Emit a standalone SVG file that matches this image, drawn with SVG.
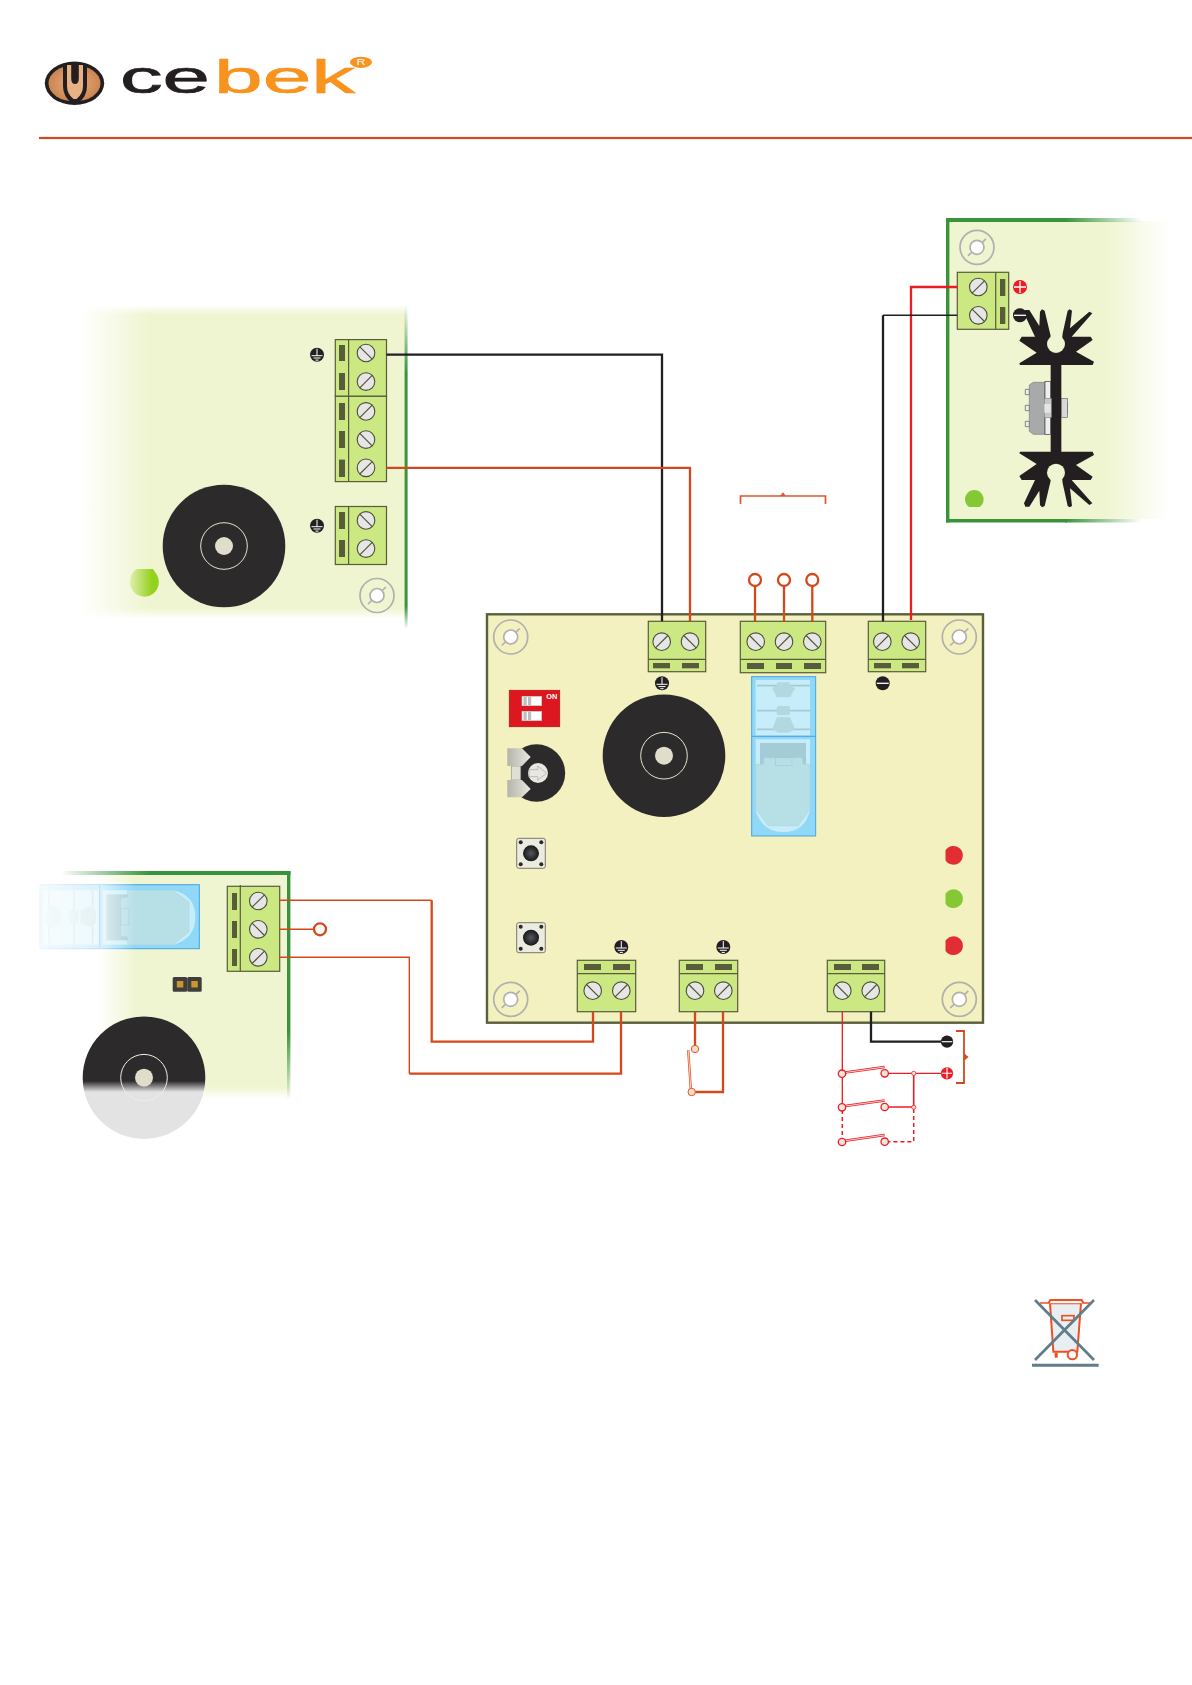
<svg xmlns="http://www.w3.org/2000/svg" xmlns:xlink="http://www.w3.org/1999/xlink" width="1192" height="1685" viewBox="0 0 1192 1685">
<style>
.t{fill:#cce883;stroke:#585c3a;stroke-width:1.2}
.s{fill:#585c3a}
.ln{fill:none;stroke:#585c3a;stroke-width:1.2}
.o{fill:none;stroke:#d4481c;stroke-width:2.3}
.ot{fill:none;stroke:#d4481c;stroke-width:1.4}
.k{fill:none;stroke:#231f20;stroke-width:2.3}
.kt{fill:none;stroke:#231f20;stroke-width:1.5}
.r{fill:none;stroke:#ed1c24;stroke-width:2.3}
.rt{fill:none;stroke:#ed1c24;stroke-width:1.3}
.rd{fill:none;stroke:#ed1c24;stroke-width:1.5;stroke-dasharray:4 3}
.term{fill:#fff;stroke:#d4481c;stroke-width:2.3}
.sw{fill:#f0e6dd;stroke:#ed1c24;stroke-width:1.3}
.swo{fill:#f4dcc8;stroke:#e0562a;stroke-width:1}
.bl{fill:none;stroke:#ed1c24;stroke-width:2.6}
.bl2{fill:none;stroke:#fbe4dc;stroke-width:.9}
</style>
<defs>
<linearGradient id="fadeL1" gradientUnits="userSpaceOnUse" x1="78" y1="0" x2="150" y2="0"><stop offset="0" stop-color="#eff5d0" stop-opacity="0"/><stop offset="1" stop-color="#eff5d0"/></linearGradient>
<linearGradient id="fadeL3" gradientUnits="userSpaceOnUse" x1="98" y1="0" x2="136" y2="0"><stop offset="0" stop-color="#eff5d0" stop-opacity="0"/><stop offset="1" stop-color="#eff5d0"/></linearGradient>
<linearGradient id="fadeR" gradientUnits="userSpaceOnUse" x1="1105" y1="0" x2="1170" y2="0"><stop offset="0" stop-color="#eff5d0"/><stop offset="1" stop-color="#eff5d0" stop-opacity="0"/></linearGradient>
<linearGradient id="wDown" x1="0" y1="0" x2="0" y2="1"><stop offset="0" stop-color="#fff" stop-opacity="0"/><stop offset="1" stop-color="#fff"/></linearGradient>
<linearGradient id="wUp" x1="0" y1="1" x2="0" y2="0"><stop offset="0" stop-color="#fff" stop-opacity="0"/><stop offset="1" stop-color="#fff"/></linearGradient>
<linearGradient id="edgeV1" x1="0" y1="0" x2="0" y2="1"><stop offset="0" stop-color="#38933a" stop-opacity="0"/><stop offset=".21" stop-color="#38933a"/><stop offset=".93" stop-color="#38933a"/><stop offset="1" stop-color="#38933a" stop-opacity="0"/></linearGradient>
<linearGradient id="edgeV3" x1="0" y1="0" x2="0" y2="1"><stop offset="0" stop-color="#38933a"/><stop offset=".7" stop-color="#38933a"/><stop offset="1" stop-color="#38933a" stop-opacity="0"/></linearGradient>
<linearGradient id="edgeHL" gradientUnits="userSpaceOnUse" x1="60" y1="0" x2="150" y2="0"><stop offset="0" stop-color="#38933a" stop-opacity="0"/><stop offset="1" stop-color="#38933a"/></linearGradient>
<linearGradient id="edgeHR" gradientUnits="userSpaceOnUse" x1="1065" y1="0" x2="1142" y2="0"><stop offset="0" stop-color="#38933a"/><stop offset="1" stop-color="#38933a" stop-opacity="0"/></linearGradient>
<linearGradient id="ledL" x1="0" y1="0" x2="1" y2="0"><stop offset="0" stop-color="#e0efb0"/><stop offset=".75" stop-color="#95d21e"/><stop offset="1" stop-color="#95d21e"/></linearGradient>
<linearGradient id="buzF" gradientUnits="userSpaceOnUse" x1="0" y1="1081" x2="0" y2="1092"><stop offset="0" stop-color="#2d2a2b"/><stop offset="1" stop-color="#e3e3e3"/></linearGradient>
<linearGradient id="relF" gradientUnits="userSpaceOnUse" x1="36" y1="0" x2="136" y2="0"><stop offset="0" stop-color="#fff" stop-opacity=".9"/><stop offset=".66" stop-color="#fff" stop-opacity=".65"/><stop offset="1" stop-color="#fff" stop-opacity="0"/></linearGradient>
<linearGradient id="tab" x1="0" y1="0" x2="1" y2="0"><stop offset="0" stop-color="#b4b4aa"/><stop offset="1" stop-color="#e9e9e0"/></linearGradient>
<radialGradient id="btn"><stop offset="0" stop-color="#55585a"/><stop offset="1" stop-color="#17181a"/></radialGradient>
<radialGradient id="logoF" cx=".5" cy=".5" r=".6"><stop offset="0" stop-color="#eeb07e"/><stop offset="1" stop-color="#c47c4a"/></radialGradient>
<g id="sf"><circle r="8.8" fill="#e6e6e6" stroke="#4b5035" stroke-width="1.1"/><line x1="-6.2" y1="6.2" x2="6.2" y2="-6.2" stroke="#4b5035" stroke-width="1.1"/></g>
<g id="sb"><circle r="8.8" fill="#e6e6e6" stroke="#4b5035" stroke-width="1.1"/><line x1="-6.2" y1="-6.2" x2="6.2" y2="6.2" stroke="#4b5035" stroke-width="1.1"/></g>
<g id="hole"><circle r="17" fill="none" stroke="#b0b0ae" stroke-width="1.7"/><line x1="-9" y1="8.5" x2="9" y2="-8.5" stroke="#b0b0ae" stroke-width="1.7"/><circle r="7" fill="#fff" stroke="#b0b0ae" stroke-width="1.7"/></g>
<g id="gnd"><circle r="7" fill="#231f20"/><path d="M0,-6V1M-5.5,1H5.5M-3.5,3.3H3.5M-1.6,5.4H1.6" fill="none" stroke="#fff" stroke-width="1"/></g>
<g id="min"><circle r="7" fill="#231f20"/><line x1="-6" x2="6" stroke="#fff" stroke-width="1.3"/></g>
<g id="pls"><circle r="7" fill="#ed1c24"/><path d="M-6,0H6M0,-6V6" stroke="#fff" stroke-width="1.3"/></g>
<g id="buz"><circle r="61.3" fill="#2d2a2b"/><circle r="23.3" fill="none" stroke="#e6e4d0" stroke-width="1"/><circle r="9" fill="#e0decb"/></g>
<g id="pb"><rect x="-14.3" y="-15" width="28.6" height="30" rx="2" fill="#ebebdf" stroke="#77786e" stroke-width="1"/><circle r="8" fill="url(#btn)"/><circle cx="-10.3" cy="-11" r="2" fill="#2a2a2a"/><circle cx="10.3" cy="-11" r="2" fill="#2a2a2a"/><circle cx="-10.3" cy="11" r="2" fill="#2a2a2a"/><circle cx="10.3" cy="11" r="2" fill="#2a2a2a"/></g>
<g id="relay">
<rect x="35" y="20" width="192" height="478" fill="#8fd8f8" stroke="#4aa3df" stroke-width="3"/>
<rect x="47" y="30" width="163" height="166" fill="#c8edfa"/>
<path d="M47,208H210V420Q195,486 130,486Q65,486 47,420Z" fill="#c8edfa"/>
<line x1="35" y1="199" x2="227" y2="199" stroke="#4aa3df" stroke-width="3"/>
<path d="M51,47H210M51,122H210M51,178H210" stroke="#a3cbd6" stroke-width="5" fill="none"/>
<path d="M112,37H148L151,47L165,55L150,82H110L97,55L109,47Z" fill="#b2d8e1"/>
<rect x="110" y="108" width="40" height="27" rx="6" fill="#b2d8e1"/>
<path d="M110,142H150L165,178L146,188H114L97,178Z" fill="#b2d8e1"/>
<rect x="60" y="219" width="138" height="66" fill="#a4ccd6"/>
<path d="M47,283H70L72,263H186L190,283H210V418L175,467H85L47,418Z" fill="#b7dfe6" stroke="#a9d0d8" stroke-width="1.5"/>
<rect x="106" y="263" width="50" height="24" fill="none" stroke="#9cc5cf" stroke-width="1.5"/>
</g>
<g id="ledF"><path d="M-8.2,-5A9.4,9.4 0 1 1 -8.2,5Z"/></g>
</defs>

<rect width="1192" height="1685" fill="#fff"/>

<g id="logo">
<ellipse cx="74.5" cy="83.3" rx="29.7" ry="21.7" fill="#231f20"/>
<ellipse cx="74.5" cy="83.3" rx="26" ry="18.2" fill="url(#logoF)"/>
<path d="M63,65H87V86Q87,97 78,103H72Q63,97 63,86Z" fill="#231f20"/>
<path d="M67,65V86Q67,94 73.5,99H76.5Q83,94 83,86V65H78.8V78Q78.8,84 75,84Q71.2,84 71.2,78V65Z" fill="#e9b285"/>
<text x="120" y="93" font-family="'Liberation Sans',Arial,sans-serif" font-size="47" fill="#231f20" stroke="#231f20" stroke-width=".7" textLength="90" lengthAdjust="spacingAndGlyphs">ce</text>
<text x="214" y="93" font-family="'Liberation Sans',Arial,sans-serif" font-size="47" fill="#f7931e" stroke="#f7931e" stroke-width=".7" textLength="141" lengthAdjust="spacingAndGlyphs">bek</text>
<ellipse cx="361" cy="62.3" rx="11" ry="5.6" fill="#f7931e"/>
<text x="361" y="65.3" text-anchor="middle" font-family="'Liberation Sans',Arial,sans-serif" font-size="8.5" fill="#fff" textLength="9" lengthAdjust="spacingAndGlyphs">R</text>
</g>
<rect id="rule" x="39" y="136.9" width="1153" height="2.2" fill="#d4481c"/>

<g id="panel-fuel">
<rect x="78" y="305" width="328" height="313" fill="url(#fadeL1)"/>
<rect x="50" y="305" width="358" height="10" fill="url(#wUp)"/>
<rect x="50" y="608" width="358" height="11" fill="url(#wDown)"/>
<rect x="404.6" y="305" width="3" height="324" fill="url(#edgeV1)"/>
<use href="#buz" x="224" y="546"/>
<path d="M137,569H153L157,575A14.5,14.5 0 1 1 130.5,578Q131.5,572 137,569Z" fill="url(#ledL)"/>
<use href="#hole" x="377" y="595.5"/>
<use href="#gnd" x="317" y="354.7"/>
<use href="#gnd" x="317" y="525.7"/>
<g id="tb-p1a">
<rect class="t" x="335.3" y="339.6" width="51.2" height="56.7"/><line class="ln" x1="348.6" y1="339.6" x2="348.6" y2="396.3"/>
<rect class="s" x="339" y="345" width="6" height="16"/><rect class="s" x="339" y="373" width="6" height="17"/>
<use href="#sb" x="366" y="353"/><use href="#sf" x="366" y="381.6"/>
</g>
<g id="tb-p1b">
<rect class="t" x="335.3" y="396.3" width="51.2" height="85.3"/><line class="ln" x1="348.6" y1="396.3" x2="348.6" y2="481.6"/>
<rect class="s" x="339" y="403" width="6" height="17"/><rect class="s" x="339" y="431" width="6" height="17"/><rect class="s" x="339" y="459.6" width="6" height="17.4"/>
<use href="#sf" x="366" y="411.4"/><use href="#sb" x="366" y="439.6"/><use href="#sf" x="366" y="467.8"/>
</g>
<g id="tb-p1c">
<rect class="t" x="335.3" y="506.5" width="51.2" height="58"/><line class="ln" x1="348.6" y1="506.5" x2="348.6" y2="564.5"/>
<rect class="s" x="339" y="512" width="6" height="17"/><rect class="s" x="339" y="540" width="6" height="17"/>
<use href="#sb" x="366" y="520.4"/><use href="#sf" x="366" y="548.6"/>
</g>
</g>

<g id="panel-heatsink">
<rect x="949" y="221" width="222" height="298" fill="url(#fadeR)"/>
<rect x="946" y="218" width="121" height="4" fill="#38933a"/><rect x="1065" y="218" width="78" height="4" fill="url(#edgeHR)"/>
<rect x="946" y="519" width="121" height="3.5" fill="#38933a"/><rect x="1065" y="519" width="78" height="3.5" fill="url(#edgeHR)"/>
<rect x="946" y="218" width="3.4" height="304.5" fill="#38933a"/>
<use href="#hole" x="977" y="247.3"/>
<g transform="translate(840,200) scale(.33333)">
<rect x="612" y="610" width="70" height="30" fill="#c9c9c9" stroke="#777" stroke-width="2"/>
<g id="sinkTop">
<path fill="#231f20" d="M538,490L590,458L538,422L545,410H585L552,340L556,330H568L598,378L600,335L606,328L614,332L632,408V440L648,452L664,440L668,400L683,332L689,328L696,332L690,385L748,335L757,340L695,410H752L758,420L708,455L762,485L758,495H540Z"/>
<circle cx="648" cy="432" r="27" fill="#eff5d0"/>
<path d="M635,395L632,412H665L662,395Z" fill="#eff5d0"/>
</g>
<rect x="632" y="490" width="32" height="270" fill="#231f20"/>
<use href="#sinkTop" transform="matrix(1 0 0 -1 0 1250)"/>
<rect x="664" y="596" width="18" height="56" fill="#d8d8d8" stroke="#666" stroke-width="2"/>
<path d="M556,568H568V584H556ZM556,616H568V632H556ZM556,664H568V680H556Z" fill="#eee" stroke="#555" stroke-width="2"/>
<path d="M580,547H615V703H580L568,694V555Z" fill="#a8a9ab" stroke="#7a7b7d" stroke-width="2"/>
<rect x="615" y="545" width="17" height="158" fill="#efefef" stroke="#333" stroke-width="2"/>
<rect x="613" y="596" width="21" height="56" fill="#c8c8c8" stroke="#888" stroke-width="2"/>
<rect x="613" y="612" width="19" height="26" fill="#e6e6e6"/>
</g>
<path d="M969.1,507A9.3,9.3 0 1 1 979.5,507Z" fill="#84c934"/>
<use href="#pls" x="1020" y="287"/>
<use href="#min" x="1020" y="315.3"/>
<g id="tb-p2">
<rect class="t" x="957.3" y="272.3" width="51.4" height="57"/><line class="ln" x1="995.7" y1="272.3" x2="995.7" y2="329.3"/>
<rect class="s" x="1000" y="279" width="5.3" height="17"/><rect class="s" x="1000" y="307" width="5.3" height="17"/>
<use href="#sf" x="978.3" y="287"/><use href="#sb" x="978.3" y="315.3"/>
</g>
</g>

<g id="panel-relay">
<rect x="98" y="875" width="191" height="224" fill="url(#fadeL3)"/>
<rect x="60" y="1086" width="232" height="13" fill="url(#wDown)"/>
<rect x="63" y="871" width="90" height="4" fill="url(#edgeHL)"/><rect x="152" y="871" width="138.5" height="4" fill="#38933a"/>
<rect x="287" y="871" width="3.4" height="229" fill="url(#edgeV3)"/>
<g id="relay-side"><use href="#relay" transform="matrix(0 -.33333 .33333 0 33.33 960.37)"/>
<rect x="38" y="882" width="98" height="68" fill="url(#relF)"/></g>
<g id="jumper"><rect x="172.7" y="977" width="14.5" height="14.7" rx="1.5" fill="#3f3e3c"/><rect x="187.2" y="977" width="14.5" height="14.7" rx="1.5" fill="#3f3e3c"/><rect x="176.8" y="981" width="6.5" height="6.5" fill="#c9972f"/><rect x="191.3" y="981" width="6.5" height="6.5" fill="#c9972f"/></g>
<circle cx="144" cy="1077.7" r="61.3" fill="url(#buzF)"/>
<circle cx="144" cy="1077.7" r="23.3" fill="none" stroke="#efefe2" stroke-width="1"/>
<circle cx="144" cy="1077.7" r="9" fill="#e0decb"/>
<g id="tb-p3">
<rect class="t" x="227.3" y="886.3" width="52.4" height="85"/><line class="ln" x1="240.3" y1="885" x2="240.3" y2="971.3"/>
<rect class="s" x="232" y="893" width="5" height="17"/><rect class="s" x="232" y="921" width="5" height="17"/><rect class="s" x="232" y="949" width="5" height="17"/>
<use href="#sf" x="258.3" y="901"/><use href="#sb" x="258.3" y="929.3"/><use href="#sf" x="258.3" y="957.3"/>
</g>
</g>

<g id="board">
<rect x="487" y="614.3" width="496" height="408.4" fill="#f3f1c0" stroke="#59603b" stroke-width="2.4"/>
<use href="#hole" x="510.7" y="637"/><use href="#hole" x="959.3" y="637"/><use href="#hole" x="510.7" y="999.3"/><use href="#hole" x="959.3" y="999.3"/>
<g id="dip">
<rect x="509.3" y="690.3" width="50.4" height="36.4" fill="#dc1720" stroke="#b8141b" stroke-width=".8"/>
<g fill="#fff" stroke="#c9c9c9" stroke-width=".6"><rect x="522" y="696.3" width="19.7" height="9.4"/><rect x="522" y="711.3" width="19.7" height="9.4"/></g>
<g fill="#bdbdbd"><rect x="523.5" y="696.8" width="3.2" height="8.4"/><rect x="528" y="696.8" width="3.2" height="8.4"/><rect x="523.5" y="711.8" width="3.2" height="8.4"/><rect x="528" y="711.8" width="3.2" height="8.4"/></g>
<text x="546.3" y="699.3" font-family="'Liberation Sans',Arial,sans-serif" font-size="7.3" font-weight="bold" fill="#fff" textLength="11" lengthAdjust="spacingAndGlyphs">ON</text>
</g>
<g id="trimmer">
<circle cx="536.5" cy="773" r="28.7" fill="#2d2a2b"/>
<rect x="505" y="766" width="7" height="14" fill="#f3f1c0"/>
<rect x="511.3" y="766" width="9.4" height="14" fill="#dfdfd5" stroke="#9a9a90" stroke-width=".7"/>
<path d="M507.3,748.3H522L530.7,757L522,766H507.3Z" fill="url(#tab)"/>
<path d="M507.3,780H522L530.7,789L522,797.3H507.3Z" fill="url(#tab)"/>
<circle cx="538" cy="773" r="10" fill="#e8e8e0"/>
<path d="M529,769.7H537.7V766L546.7,773.3L537.7,780V776.7H529Z" fill="none" stroke="#b0b0a8" stroke-width=".8"/>
</g>
<use href="#buz" x="664" y="755.7"/>
<use id="relay-main" href="#relay" transform="translate(740,670) scale(.33333)"/>
<use href="#pb" x="531" y="853.3"/><use href="#pb" x="531" y="937.7"/>
<use href="#ledF" x="953.7" y="855.3" fill="#e22e33"/>
<use href="#ledF" x="953.7" y="898.7" fill="#84c934"/>
<use href="#ledF" x="953.7" y="945.7" fill="#e22e33"/>
<use href="#gnd" x="662" y="683.3"/><use href="#min" x="882.7" y="683.3"/>
<use href="#gnd" x="621.3" y="947"/><use href="#gnd" x="723.3" y="947"/>
<g id="tb-a"><rect class="t" x="648.3" y="621.3" width="57.4" height="50.4"/><line class="ln" x1="648.3" y1="659.3" x2="705.7" y2="659.3"/>
<rect class="s" x="653" y="663" width="17" height="5.3"/><rect class="s" x="682" y="663" width="17" height="5.3"/>
<use href="#sf" x="661.7" y="641.7"/><use href="#sb" x="690" y="641.7"/></g>
<g id="tb-b"><rect class="t" x="740.3" y="621.3" width="85.4" height="51.4"/><line class="ln" x1="740.3" y1="659.3" x2="825.7" y2="659.3"/>
<rect class="s" x="747" y="663" width="17" height="6"/><rect class="s" x="776" y="663" width="16" height="6"/><rect class="s" x="804" y="663" width="17" height="6"/>
<use href="#sb" x="755.7" y="641.7"/><use href="#sf" x="784" y="641.7"/><use href="#sb" x="812.3" y="641.7"/></g>
<g id="tb-c"><rect class="t" x="868.3" y="621.3" width="57.4" height="50.4"/><line class="ln" x1="868.3" y1="659.3" x2="925.7" y2="659.3"/>
<rect class="s" x="874" y="663" width="17" height="5.3"/><rect class="s" x="902" y="663" width="17" height="5.3"/>
<use href="#sf" x="882.3" y="641.7"/><use href="#sb" x="910.7" y="641.7"/></g>
<g id="tb-d"><rect class="t" x="577.3" y="960.3" width="58.4" height="51.4"/><line class="ln" x1="577.3" y1="973.7" x2="635.7" y2="973.7"/>
<rect class="s" x="584" y="964" width="17" height="6"/><rect class="s" x="613" y="964" width="17" height="6"/>
<use href="#sb" x="592.7" y="990.7"/><use href="#sf" x="621.3" y="990.7"/></g>
<g id="tb-e"><rect class="t" x="679.3" y="960.3" width="58.4" height="51.4"/><line class="ln" x1="679.3" y1="973.7" x2="737.7" y2="973.7"/>
<rect class="s" x="686" y="964" width="17" height="6"/><rect class="s" x="715" y="964" width="17" height="6"/>
<use href="#sb" x="695" y="990.7"/><use href="#sf" x="723.3" y="990.7"/></g>
<g id="tb-f"><rect class="t" x="827.3" y="960.3" width="57.4" height="51.4"/><line class="ln" x1="827.3" y1="973.7" x2="884.7" y2="973.7"/>
<rect class="s" x="834" y="964" width="17" height="6"/><rect class="s" x="862" y="964" width="17" height="6"/>
<use href="#sb" x="842.3" y="990.7"/><use href="#sf" x="870.7" y="990.7"/></g>
</g>

<g id="connectors">
<path class="k" d="M386.5,354.7H662V621.3"/>
<path class="o" d="M386.5,467.8H690V621.3"/>
<path class="r" d="M957.3,287H911V620"/>
<path class="kt" d="M957.3,315.3H883"/><path class="k" d="M883,315.3V621.3"/>
<path class="o" d="M755,586V621.3M784,586V621.3M812.3,586V621.3"/>
<circle class="term" cx="755" cy="580" r="6"/><circle class="term" cx="784" cy="580" r="6"/><circle class="term" cx="812.3" cy="580" r="6"/>
<path d="M740.5,504V496H825.5V504" fill="none" stroke="#e0562a" stroke-width="1.7"/>
<path d="M780,496L783,492.3L786,496Z" fill="#e0562a"/>
<path class="ot" d="M279.7,900.3H431.7"/><path class="o" d="M431.7,900.3V1041.7H593V1011.7"/>
<path class="ot" d="M279.7,929.3H314"/><circle class="term" cx="320" cy="929.3" r="6"/>
<path class="ot" d="M279.7,957.3H409.3V1073.7"/><path class="o" d="M409.3,1073.7H621V1011.7"/>
<path class="o" d="M695,1011.7V1045M723,1011.7V1092H695"/>
<path d="M688.2,1050L691,1092" fill="none" stroke="#e0562a" stroke-width="2.4"/><path d="M688.2,1050L691,1092" fill="none" stroke="#f6dccb" stroke-width=".9"/>
<circle class="swo" cx="695" cy="1049" r="3.7"/><circle class="swo" cx="691.7" cy="1092" r="3.7"/>
<path class="rt" d="M842.3,1011.7V1107M884.7,1073.3H947M884.7,1107H913.7"/>
<path class="k" d="M871,1011.7V1041.7H947"/>
<path d="M913.7,1073.3V1107.3" fill="none" stroke="#ed1c24" stroke-width="1.6"/>
<path class="rd" d="M842.3,1110V1140M913.7,1109V1141.7H888"/>
<path class="bl" d="M843.3,1072.8L884.7,1067"/><path class="bl2" d="M843.3,1072.8L884.7,1067"/>
<path class="bl" d="M843.3,1106.3L884.7,1100.5"/><path class="bl2" d="M843.3,1106.3L884.7,1100.5"/>
<path class="bl" d="M843.3,1141L884.7,1135"/><path class="bl2" d="M843.3,1141L884.7,1135"/>
<circle class="sw" cx="842" cy="1073.7" r="3.7"/><circle class="sw" cx="884.7" cy="1073.3" r="3.7"/>
<circle class="sw" cx="842" cy="1107.3" r="3.7"/><circle class="sw" cx="884.7" cy="1107" r="3.7"/>
<circle class="sw" cx="842" cy="1142" r="3.7"/><circle class="sw" cx="884.7" cy="1141.7" r="3.7"/>
<circle cx="913.7" cy="1073.3" r="2.1" fill="#fbe4dc" stroke="#ed1c24" stroke-width=".8"/>
<circle cx="913.7" cy="1107.3" r="2.1" fill="#fbe4dc" stroke="#ed1c24" stroke-width=".8"/>
<use href="#min" transform="translate(947,1041.7) scale(.88)"/>
<use href="#pls" transform="translate(947,1073.3) scale(.88)"/>
<path d="M956,1031H964V1083H956" fill="none" stroke="#d4481c" stroke-width="1.8"/>
<path d="M964.5,1053.5L968.5,1057L964.5,1060.5Z" fill="#d4481c"/>
</g>

<g id="weee" transform="translate(1000,1280) scale(.33333)">
<path d="M150,70H243L232,215H160Z" fill="#e8eef1" stroke="#f04e23" stroke-width="6"/>
<path d="M120,69H275" fill="none" stroke="#f04e23" stroke-width="5"/>
<path d="M145,70L151,60H245L251,70" fill="#f8f8f8" stroke="#f04e23" stroke-width="6"/>
<rect x="186" y="107" width="36" height="14" fill="#e8eef1" stroke="#f04e23" stroke-width="5"/>
<path d="M165,218V232H172V218" fill="#f04e23" stroke="#f04e23" stroke-width="2"/>
<circle cx="217" cy="224" r="14" fill="#fff" stroke="#f04e23" stroke-width="6"/>
<path d="M105,60L282,240M282,60L105,240" stroke="#607d8b" stroke-width="8" fill="none"/>
<line x1="96" y1="256" x2="296" y2="256" stroke="#607d8b" stroke-width="9"/>
</g>
</svg>
